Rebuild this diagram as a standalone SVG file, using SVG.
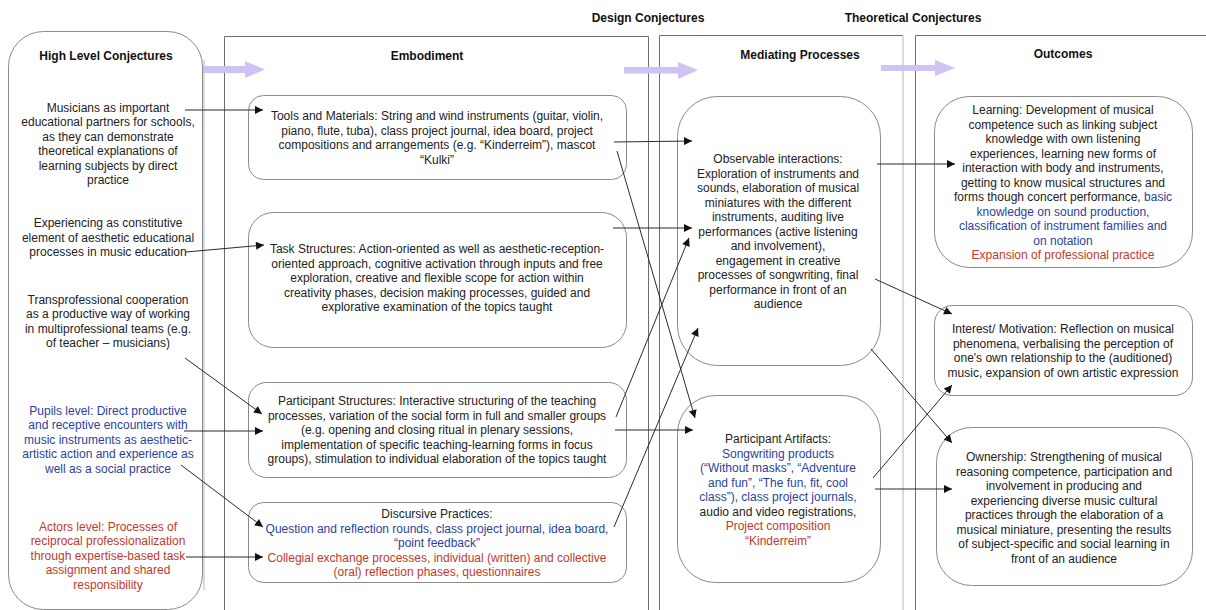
<svg xmlns="http://www.w3.org/2000/svg" width="1206" height="610" viewBox="0 0 1206 610">
<style>
text{font-family:"Liberation Sans",Arial,sans-serif;font-size:12px;fill:#222;text-anchor:middle}
.h{font-weight:bold;fill:#111}
.bl{fill:#2b3f9c}
.rd{fill:#c0392b}
.box{fill:#fff;stroke:#8a8a8a;stroke-width:1}
.frame{stroke:#6e6e6e;stroke-width:1;fill:none}
.light{stroke:#cfcfcf;stroke-width:1.5;fill:none}
.pa{fill:#cfc3f3}
.con{stroke:#2a2a2a;stroke-width:1;fill:none;marker-end:url(#ah)}
</style>
<defs>
<marker id="ah" viewBox="0 0 10 10" refX="10" refY="5" markerWidth="10" markerHeight="8" markerUnits="userSpaceOnUse" orient="auto">
<path d="M0,0 L10,5 L0,10 z" fill="#111"/>
</marker>
</defs>
<rect width="1206" height="610" fill="#fff"/>

<g id="frames">
<path class="frame" d="M224.5,610 V36.5 H648.5 V610"/>
<path class="frame" d="M659.5,610 V35.5 H903"/>
<path class="light" d="M903,35.5 V610"/>
<path class="frame" d="M915.5,610 V35.5 H1206"/>
<path class="light" d="M204,60 V590"/>
</g>

<g id="headers">
<text class="h" x="648" y="22">Design Conjectures</text>
<text class="h" x="913" y="22">Theoretical Conjectures</text>
<text class="h" x="427" y="60">Embodiment</text>
<text class="h" x="800" y="59">Mediating Processes</text>
<text class="h" x="1063" y="58">Outcomes</text>
</g>

<g id="flow-arrows">
<path class="pa" d="M192,66 H245 V61 L265,69.5 L245,78 V73 H192 z"/>
<path class="pa" d="M624,67 H678 V62 L698,70 L678,79 V73.5 H624 z"/>
<path class="pa" d="M881,65 H935 V60 L955,68 L935,76 V71 H881 z"/>
</g>

<g id="high-level">
<rect class="box" x="8.5" y="31.5" width="194" height="578" rx="35"/>
<text class="h" x="106" y="60">High Level Conjectures</text>
<text x="108" y="112">Musicians as important</text>
<text x="108" y="126.4">educational partners for schools,</text>
<text x="108" y="140.8">as they can demonstrate</text>
<text x="108" y="155.2">theoretical explanations of</text>
<text x="108" y="169.6">learning subjects by direct</text>
<text x="108" y="184">practice</text>
<text x="108" y="227">Experiencing as constitutive</text>
<text x="108" y="241.5">element of aesthetic educational</text>
<text x="108" y="256">processes in music education</text>
<text x="108" y="304">Transprofessional cooperation</text>
<text x="108" y="318.4">as a productive way of working</text>
<text x="108" y="332.8">in multiprofessional teams (e.g.</text>
<text x="108" y="347.2">of teacher – musicians)</text>
<text class="bl" x="108" y="415">Pupils level: Direct productive</text>
<text class="bl" x="108" y="429.4">and receptive encounters with</text>
<text class="bl" x="108" y="443.8">music instruments as aesthetic-</text>
<text class="bl" x="108" y="458.2">artistic action and experience as</text>
<text class="bl" x="108" y="472.6">well as a social practice</text>
<text class="rd" x="108" y="531">Actors level: Processes of</text>
<text class="rd" x="108" y="545.4">reciprocal professionalization</text>
<text class="rd" x="108" y="559.8">through expertise-based task</text>
<text class="rd" x="108" y="574.2">assignment and shared</text>
<text class="rd" x="108" y="588.6">responsibility</text>
</g>

<g id="tools">
<rect class="box" x="248.5" y="95.5" width="378" height="84" rx="15"/>
<text x="437" y="120">Tools and Materials: String and wind instruments (guitar, violin,</text>
<text x="437" y="134.5">piano, flute, tuba), class project journal, idea board, project</text>
<text x="437" y="149">compositions and arrangements (e.g. “Kinderreim”), mascot</text>
<text x="437" y="163.5">“Kulki”</text>
</g>

<g id="task">
<rect class="box" x="248.5" y="212.5" width="378" height="135" rx="25"/>
<text x="437" y="253">Task Structures: Action-oriented as well as aesthetic-reception-</text>
<text x="437" y="267.5">oriented approach, cognitive activation through inputs and free</text>
<text x="437" y="282">exploration, creative and flexible scope for action within</text>
<text x="437" y="296.5">creativity phases, decision making processes, guided and</text>
<text x="437" y="311">explorative examination of the topics taught</text>
</g>

<g id="participant-structures">
<rect class="box" x="248.5" y="382.5" width="378" height="95" rx="18"/>
<text x="437" y="405">Participant Structures: Interactive structuring of the teaching</text>
<text x="437" y="419.5">processes, variation of the social form in full and smaller groups</text>
<text x="437" y="434">(e.g. opening and closing ritual in plenary sessions,</text>
<text x="437" y="448.5">implementation of specific teaching-learning forms in focus</text>
<text x="437" y="463">groups), stimulation to individual elaboration of the topics taught</text>
</g>

<g id="discursive">
<rect class="box" x="248.5" y="502.5" width="378" height="80" rx="15"/>
<text x="437" y="518">Discursive Practices:</text>
<text class="bl" x="437" y="532.5">Question and reflection rounds, class project journal, idea board,</text>
<text class="bl" x="437" y="547">“point feedback”</text>
<text class="rd" x="437" y="561.5">Collegial exchange processes, individual (written) and collective</text>
<text class="rd" x="437" y="576">(oral) reflection phases, questionnaires</text>
</g>

<g id="observable">
<rect class="box" x="677.5" y="96.5" width="203" height="269" rx="40"/>
<text x="778" y="163">Observable interactions:</text>
<text x="778" y="177.5">Exploration of instruments and</text>
<text x="778" y="192">sounds, elaboration of musical</text>
<text x="778" y="206.5">miniatures with the different</text>
<text x="778" y="221">instruments, auditing live</text>
<text x="778" y="235.5">performances (active listening</text>
<text x="778" y="250">and involvement),</text>
<text x="778" y="264.5">engagement in creative</text>
<text x="778" y="279">processes of songwriting, final</text>
<text x="778" y="293.5">performance in front of an</text>
<text x="778" y="308">audience</text>
</g>

<g id="artifacts">
<rect class="box" x="677.5" y="395.5" width="203" height="187" rx="38"/>
<text x="778" y="443">Participant Artifacts:</text>
<text class="bl" x="778" y="457.5">Songwriting products</text>
<text class="bl" x="778" y="472">(“Without masks”, “Adventure</text>
<text class="bl" x="778" y="486.5">and fun”, “The fun, fit, cool</text>
<text class="bl" x="778" y="501">class”), class project journals,</text>
<text x="778" y="515.5">audio and video registrations,</text>
<text class="rd" x="778" y="530">Project composition</text>
<text class="rd" x="778" y="544.5">“Kinderreim”</text>
</g>

<g id="learning">
<rect class="box" x="934.5" y="96.5" width="258" height="171" rx="35"/>
<text x="1063" y="114">Learning: Development of musical</text>
<text x="1063" y="128.5">competence such as linking subject</text>
<text x="1063" y="143">knowledge with own listening</text>
<text x="1063" y="157.5">experiences, learning new forms of</text>
<text x="1063" y="172">interaction with body and instruments,</text>
<text x="1063" y="186.5">getting to know musical structures and</text>
<text x="1063" y="201">forms though concert performance, <tspan class="bl">basic</tspan></text>
<text class="bl" x="1063" y="215.5">knowledge on sound production,</text>
<text class="bl" x="1063" y="230">classification of instrument families and</text>
<text class="bl" x="1063" y="244.5">on notation</text>
<text class="rd" x="1063" y="259">Expansion of professional practice</text>
</g>

<g id="interest">
<rect class="box" x="934.5" y="305.5" width="258" height="90" rx="18"/>
<text x="1063" y="333">Interest/ Motivation: Reflection on musical</text>
<text x="1063" y="347.5">phenomena, verbalising the perception of</text>
<text x="1063" y="362">one's own relationship to the (auditioned)</text>
<text x="1063" y="376.5">music, expansion of own artistic expression</text>
</g>

<g id="ownership">
<rect class="box" x="936.5" y="427.5" width="256" height="158" rx="35"/>
<text x="1064" y="461">Ownership: Strengthening of musical</text>
<text x="1064" y="475.5">reasoning competence, participation and</text>
<text x="1064" y="490">involvement in producing and</text>
<text x="1064" y="504.5">experiencing diverse music cultural</text>
<text x="1064" y="519">practices through the elaboration of a</text>
<text x="1064" y="533.5">musical miniature, presenting the results</text>
<text x="1064" y="548">of subject-specific and social learning in</text>
<text x="1064" y="562.5">front of an audience</text>
</g>

<g id="connectors">
<line class="con" x1="185" y1="110" x2="263" y2="110"/>
<line class="con" x1="186" y1="252" x2="264" y2="245"/>
<line class="con" x1="185" y1="358" x2="262" y2="414"/>
<line class="con" x1="184" y1="431" x2="263" y2="431"/>
<line class="con" x1="181" y1="465" x2="263" y2="527"/>
<line class="con" x1="186" y1="557" x2="263" y2="557"/>
<line class="con" x1="614" y1="142" x2="692" y2="141"/>
<line class="con" x1="617" y1="151" x2="695" y2="418"/>
<line class="con" x1="613" y1="228" x2="692" y2="228"/>
<line class="con" x1="616" y1="417" x2="689" y2="238"/>
<line class="con" x1="615" y1="430" x2="693" y2="430"/>
<line class="con" x1="614" y1="527" x2="698" y2="328"/>
<line class="con" x1="877" y1="164" x2="955" y2="164"/>
<line class="con" x1="875" y1="279" x2="952" y2="314"/>
<line class="con" x1="871" y1="349" x2="952" y2="443"/>
<line class="con" x1="873" y1="478" x2="952" y2="385"/>
<line class="con" x1="875" y1="489" x2="952" y2="489"/>
</g>
</svg>
